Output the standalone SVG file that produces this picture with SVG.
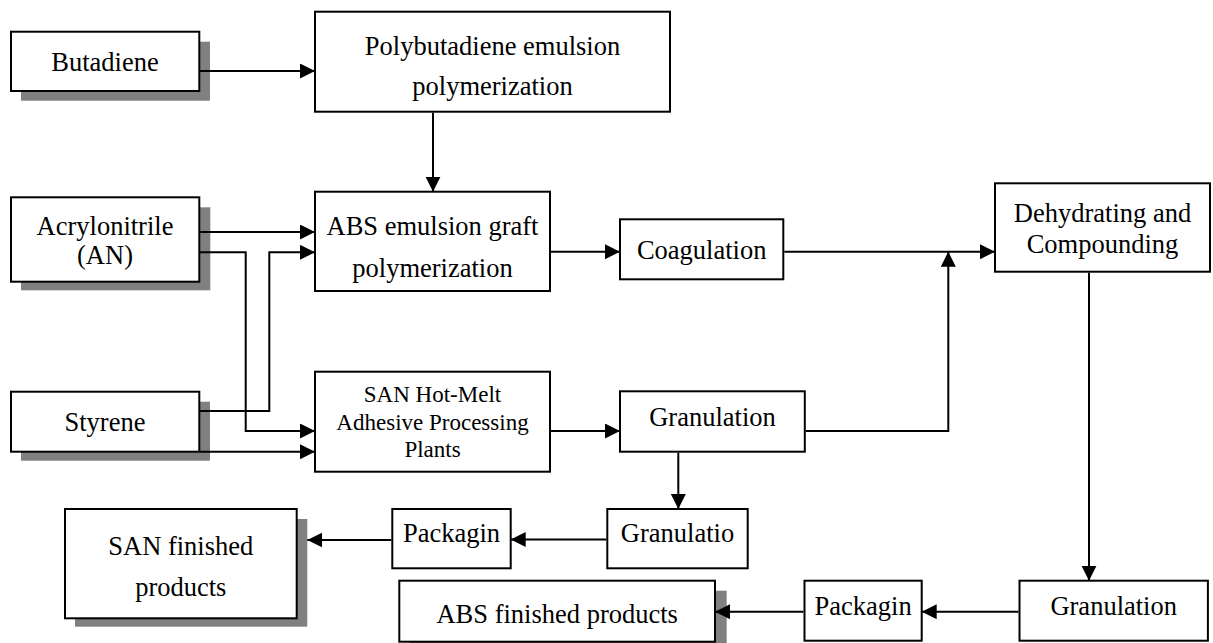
<svg xmlns="http://www.w3.org/2000/svg" width="1213" height="643" viewBox="0 0 1213 643">
<style>
.box{fill:#fff;stroke:#000;stroke-width:2}
.sh{fill:#808080;stroke:none}
.t{font-family:"Liberation Serif","Times New Roman",serif;font-size:26.5px;fill:#000;text-anchor:middle}
.ts{font-size:23px}
.c{fill:none;stroke:#000;stroke-width:2}
</style>
<defs>
<marker id="ah" markerUnits="userSpaceOnUse" markerWidth="16" markerHeight="16" refX="15" refY="7.5" orient="auto">
<path d="M0,0 L15,7.5 L0,15 Z" fill="#000"/>
</marker>
</defs>
<rect x="0" y="0" width="1213" height="643" fill="#fff"/>
<g id="butadiene">
<rect class="sh" x="21" y="41.7" width="189" height="59"/>
<rect class="box" x="11" y="31.7" width="188.3" height="59.3"/>
<text class="t" x="105" y="70.7">Butadiene</text>
</g>
<g id="polybutadiene">
<rect class="box" x="315" y="11.7" width="355" height="100"/>
<text class="t" x="492.5" y="55">Polybutadiene emulsion</text>
<text class="t" x="492.5" y="95">polymerization</text>
</g>
<g id="acrylonitrile">
<rect class="sh" x="21" y="207.3" width="189.3" height="83"/>
<rect class="box" x="11" y="197.3" width="188.3" height="84.4"/>
<text class="t" x="105" y="234.5">Acrylonitrile</text>
<text class="t" x="105" y="264">(AN)</text>
</g>
<g id="abs-graft">
<rect class="box" x="315" y="191.7" width="235" height="99.3"/>
<text class="t" x="432.5" y="235">ABS emulsion graft</text>
<text class="t" x="432.5" y="276.7">polymerization</text>
</g>
<g id="coagulation">
<rect class="box" x="620" y="219.3" width="163.3" height="60"/>
<text class="t" x="701.7" y="259">Coagulation</text>
</g>
<g id="dehydrating">
<rect class="box" x="995" y="183.3" width="215" height="88.4"/>
<text class="t" x="1102.5" y="222">Dehydrating and</text>
<text class="t" x="1102.5" y="253">Compounding</text>
</g>
<g id="styrene">
<rect class="sh" x="21" y="401.7" width="189" height="59"/>
<rect class="box" x="11" y="391.7" width="188.3" height="60"/>
<text class="t" x="105" y="430.5">Styrene</text>
</g>
<g id="san-plant">
<rect class="box" x="315" y="371.7" width="235" height="100"/>
<text class="t ts" x="432.5" y="402.3">SAN Hot-Melt</text>
<text class="t ts" x="432.5" y="430">Adhesive Processing</text>
<text class="t ts" x="432.5" y="457.3">Plants</text>
</g>
<g id="granulation-san">
<rect class="box" x="620" y="391.3" width="184.8" height="60.4"/>
<text class="t" x="712.5" y="425.5">Granulation</text>
</g>
<g id="granulatio">
<rect class="box" x="607.3" y="509" width="140.4" height="59.3"/>
<text class="t" x="677.5" y="541.7">Granulatio</text>
</g>
<g id="packagin-san">
<rect class="box" x="392.3" y="509" width="118.4" height="59.3"/>
<text class="t" x="451.5" y="541.7">Packagin</text>
</g>
<g id="san-finished">
<rect class="sh" x="75" y="519" width="232.3" height="107.7"/>
<rect class="box" x="65" y="509" width="231.7" height="109.3"/>
<text class="t" x="180.8" y="555">SAN finished</text>
<text class="t" x="180.8" y="595.7">products</text>
</g>
<g id="granulation-abs">
<rect class="box" x="1019.5" y="580.7" width="188.4" height="60"/>
<text class="t" x="1113.7" y="614.5">Granulation</text>
</g>
<g id="packagin-abs">
<rect class="box" x="804.5" y="580.7" width="117.2" height="60"/>
<text class="t" x="863.1" y="615">Packagin</text>
</g>
<g id="abs-finished">
<rect class="sh" x="409.3" y="590.7" width="317.4" height="60"/>
<rect class="box" x="399.3" y="580.7" width="315.7" height="61"/>
<text class="t" x="557.2" y="623.3">ABS finished products</text>
</g>
<g id="connectors">
<path class="c" d="M200,71 H315" marker-end="url(#ah)"/>
<path class="c" d="M433,112.7 V191.7" marker-end="url(#ah)"/>
<path class="c" d="M200,232 H315" marker-end="url(#ah)"/>
<path class="c" d="M200,252.3 H245.7 V431 H315" marker-end="url(#ah)"/>
<path class="c" d="M200,411 H269.3 V252.3 H315" marker-end="url(#ah)"/>
<path class="c" d="M200,451.7 H315" marker-end="url(#ah)"/>
<path class="c" d="M551,251.7 H620" marker-end="url(#ah)"/>
<path class="c" d="M784.3,251.7 H995" marker-end="url(#ah)"/>
<path class="c" d="M551,431 H620" marker-end="url(#ah)"/>
<path class="c" d="M805.8,431 H948.3 V251.7" marker-end="url(#ah)"/>
<path class="c" d="M1089,272.7 V580.7" marker-end="url(#ah)"/>
<path class="c" d="M678.3,452.7 V509" marker-end="url(#ah)"/>
<path class="c" d="M606.3,539.5 H510.7" marker-end="url(#ah)"/>
<path class="c" d="M391.3,540 H307.3" marker-end="url(#ah)"/>
<path class="c" d="M1018.5,611.7 H921.7" marker-end="url(#ah)"/>
<path class="c" d="M803.5,611.7 H715" marker-end="url(#ah)"/>
</g>
</svg>
